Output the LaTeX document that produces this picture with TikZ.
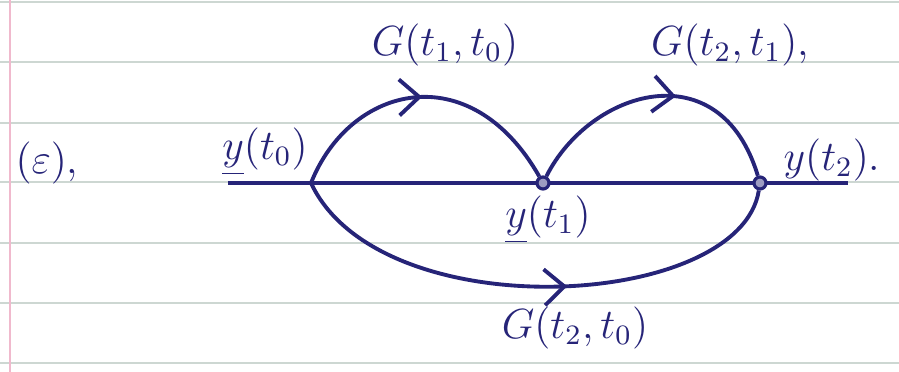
\documentclass[tikz,border=0pt]{standalone}
\usepackage{amsmath}
\usetikzlibrary{arrows.meta,decorations.markings}
\definecolor{ink}{RGB}{38,36,120}
\definecolor{rulecol}{RGB}{205,215,210}
\definecolor{margincol}{RGB}{240,185,205}

\begin{document}
\begin{tikzpicture}[
  x=0.1mm, y=-0.1mm,
  every node/.style={text=ink, font=\fontsize{12}{14}\selectfont},
  path line/.style={draw=ink, line width=1.1pt},
  flow/.style={path line, postaction={decorate},
    decoration={markings, mark=at position #1 with
    {\arrow{Straight Barb[length=2mm,width=3.6mm,line width=1.1pt]}}}},
  dot/.style={circle, draw=ink, fill=ink!45, line width=0.9pt,
    inner sep=0pt, minimum size=1.2mm}
]
\useasboundingbox (0,0) rectangle (899,372);
% ruled paper
\foreach \y in {2,62,123,182,243,303,363}
  \draw[rulecol, line width=0.5pt] (0,\y) -- (899,\y);
\draw[margincol, line width=0.6pt] (10,0) -- (10,372);

% time axis
\coordinate (left) at (228,183);
\coordinate (right) at (848,183);
\coordinate (t0) at (311,183);
\draw[path line] (left) -- (right);
\node[dot] (t1) at (543,183) {};
\node[dot] (t2) at (760,183) {};

% propagators
\draw[flow=0.5] (t0) .. controls (350,85) and (470,55) .. (t1);
\draw[flow=0.57] (t1) .. controls (590,90) and (720,50) .. (t2);
\draw[flow=0.56] (t0) .. controls (380,330) and (740,310) .. (t2);

% labels
\node (g10) at (445,45) {$G(t_1,t_0)$};
\node (g21) at (730,45) {$G(t_2,t_1)$,};
\node (g20) at (575,328) {$G(t_2,t_0)$};
\node (y0) at (265,152) {$\underline{y}(t_0)$};
\node (y1) at (548,220) {$\underline{y}(t_1)$};
\node (y2) at (832,160) {$y(t_2)$.};
\node (eq) at (47,163) {$(\varepsilon)$,};

\end{tikzpicture}
\end{document}
